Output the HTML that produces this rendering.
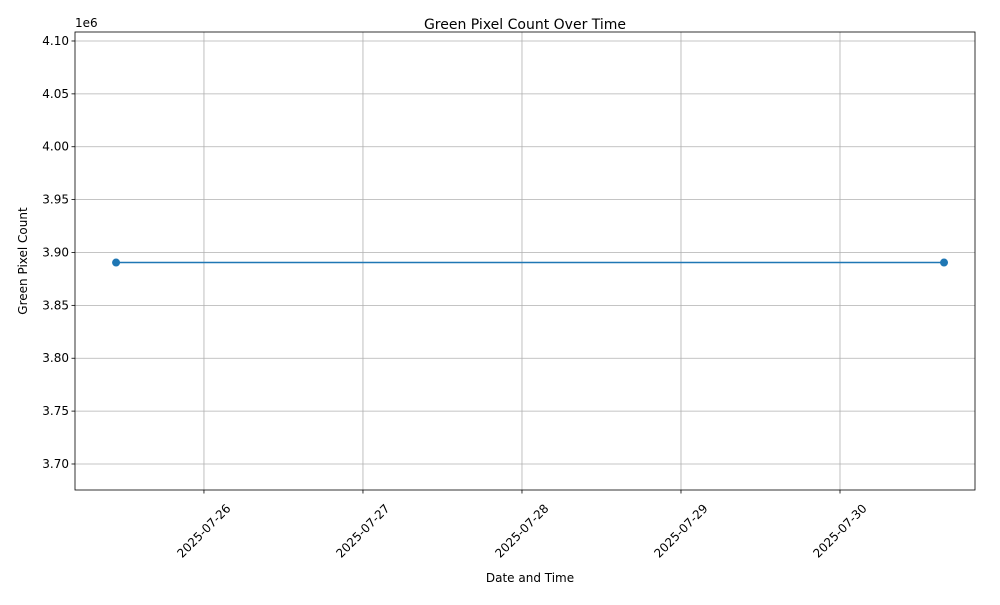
<!DOCTYPE html>
<html><head><meta charset="utf-8"><style>
body{margin:0;background:#fff;font-family:"Liberation Sans","DejaVu Sans",sans-serif}
</style></head><body>
<svg id="chart" width="1000" height="600" font-family="'DejaVu Sans','Liberation Sans',sans-serif">
<rect width="1000" height="600" fill="#fff"/>
<text x="525" y="29" text-anchor="middle" font-size="14">Green Pixel Count Over Time</text>
<text x="75" y="27" font-size="12">1e6</text>
<text x="530" y="582" text-anchor="middle" font-size="12">Date and Time</text>
<text transform="translate(27,261) rotate(-90)" text-anchor="middle" font-size="12">Green Pixel Count</text>
<g id="grid"></g><g id="axes"></g><g id="series"></g>
<rect x="75" y="32" width="900" height="458" fill="none" stroke="#000" stroke-width="0.8"/>
</svg>
<script>
const dates = ["2025-07-25T10:44","2025-07-30T15:42"];
const values = [3890500, 3890500];
const xTicks = ["2025-07-26","2025-07-27","2025-07-28","2025-07-29","2025-07-30"];
const yTicks = [3.70,3.75,3.80,3.85,3.90,3.95,4.00,4.05,4.10];
const NS="http://www.w3.org/2000/svg";
const L=75,R=975,T=32,B=490;
const day=s=>Date.parse(s+(s.length===10?"T00:00Z":":00Z"))/86400000;
const x0=day("2025-07-25")+0.189, x1=day("2025-07-30")+0.849;
const y0=3.6754e6, y1=4.1085e6;
const xs=v=>L+(day(v)-x0)/(x1-x0)*(R-L);
const ys=v=>B-(v-y0)/(y1-y0)*(B-T);
function mk(tag,attrs,parent){const e=document.createElementNS(NS,tag);for(const k in attrs)e.setAttribute(k,attrs[k]);parent.appendChild(e);return e;}
const grid=document.getElementById('grid'),axes=document.getElementById('axes'),ser=document.getElementById('series');
xTicks.forEach(t=>{const x=xs(t);
 const g=mk('line',{x1:x,x2:x,y1:T,y2:B,stroke:'#b0b0b0','stroke-width':0.8},grid);
 
 
 mk('line',{x1:x,x2:x,y1:B,y2:B+3.5,stroke:'#000','stroke-width':0.8},axes);
 const tx=mk('text',{x:0,y:4,'font-size':12,'text-anchor':'middle',transform:`translate(${x},${B+41}) rotate(-45)`},axes);
 tx.textContent=t;
 
 
});
yTicks.forEach(t=>{const y=ys(t*1e6);
 const g=mk('line',{x1:L,x2:R,y1:y,y2:y,stroke:'#b0b0b0','stroke-width':0.8},grid);
 
 
 mk('line',{x1:L-3.5,x2:L,y1:y,y2:y,stroke:'#000','stroke-width':0.8},axes);
 const tx=mk('text',{x:L-6,y:y+4,'font-size':12,'text-anchor':'end'},axes);
 tx.textContent=t.toFixed(2);
 
 
});
const pts=dates.map((d,i)=>[xs(d),ys(values[i])]);
const pl=mk('polyline',{points:pts.map(p=>p.join(',')).join(' '),fill:'none',stroke:'#1f77b4','stroke-width':1.5},ser);


pts.forEach(p=>{const c=mk('circle',{cx:p[0],cy:p[1],r:4,fill:'#1f77b4'},ser);
 
 
});
</script>
</body></html>
